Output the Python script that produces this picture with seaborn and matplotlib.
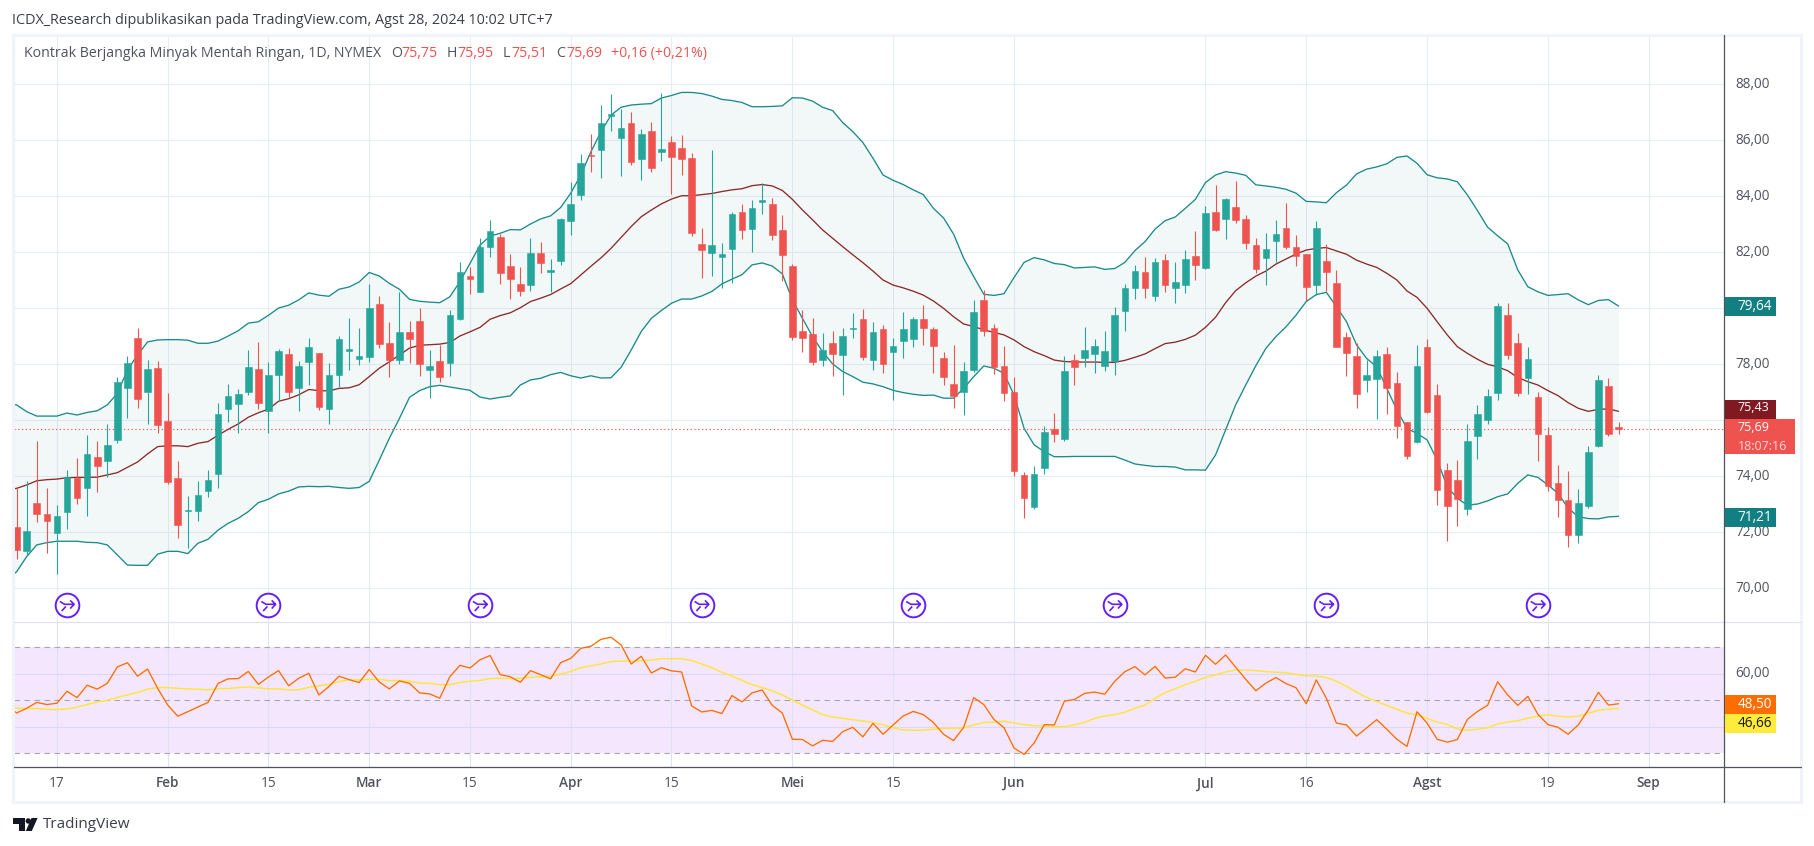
import numpy as np
import pandas as pd
import seaborn as sns
import matplotlib
matplotlib.use("Agg")
import matplotlib.pyplot as plt
from matplotlib.path import Path
from matplotlib.patches import Rectangle, Polygon, Circle
from matplotlib.lines import Line2D
from matplotlib.transforms import Affine2D, ScaledTranslation

open_ = [72.19,71.33,73.05,72.65,71.97,72.72,73.94,73.58,74.69,74.55,
75.30,77.15,78.94,77.01,77.87,75.97,73.94,72.77,72.76,73.47,
74.08,76.40,76.58,77.01,77.83,76.33,77.62,78.37,77.15,78.08,
78.40,76.40,77.62,78.47,78.19,78.26,80.15,78.76,78.15,79.15,
79.55,77.80,78.12,78.05,79.62,81.15,80.58,82.19,82.55,81.51,
80.87,80.83,81.97,81.31,81.69,83.12,84.05,85.48,85.65,86.87,
86.08,86.62,85.33,86.33,85.58,85.94,85.72,85.37,82.30,81.97,
81.83,82.12,83.44,82.83,83.80,83.73,82.80,81.51,79.19,79.08,
78.15,78.76,78.33,79.26,79.62,78.15,79.26,78.44,78.83,78.90,
79.62,79.26,78.23,77.30,77.01,77.80,80.30,79.30,77.94,77.01,
74.05,72.90,74.30,75.69,75.33,78.15,78.23,78.37,77.94,78.12,
79.90,80.73,81.30,80.44,81.73,80.73,80.83,81.87,81.44,83.44,
83.19,83.62,83.19,82.26,81.80,82.40,82.87,82.19,81.94,80.83,
81.69,80.90,78.97,78.30,77.44,77.47,78.37,77.33,75.94,75.21,
78.62,76.90,74.22,73.87,72.83,75.44,76.01,76.97,79.76,78.76,
77.51,76.83,75.47,73.76,73.15,71.90,72.94,75.08,77.22,75.75]
high = [73.57,73.82,75.26,73.58,72.97,74.22,74.65,75.47,75.26,75.87,
77.55,78.30,79.30,78.15,78.12,76.97,74.55,73.30,73.83,74.22,
76.62,77.30,77.12,78.51,78.80,78.08,78.55,78.58,78.12,78.94,
78.40,78.05,79.01,79.65,79.30,80.87,80.44,79.51,80.58,79.55,
80.01,78.51,78.69,79.94,81.64,81.46,82.51,83.15,82.65,81.94,
81.47,82.51,82.37,81.76,83.22,84.51,85.51,86.22,87.26,87.65,
87.12,87.01,86.40,86.66,87.69,86.15,86.19,85.55,82.87,85.65,
82.33,83.44,83.73,83.87,84.48,83.94,83.33,81.58,79.94,79.65,
79.12,79.19,79.30,79.83,79.98,79.51,79.40,78.94,79.87,79.69,
80.12,79.33,78.44,78.69,78.08,80.30,80.66,79.44,78.65,77.55,
74.15,74.37,75.80,76.26,78.30,78.37,79.33,78.90,79.19,80.05,
80.87,81.55,81.83,81.80,81.94,81.65,82.08,82.76,83.65,84.40,
83.94,84.55,83.33,82.51,82.69,83.15,83.76,82.62,81.94,83.12,
82.30,81.37,79.15,78.76,78.15,78.51,78.62,77.72,75.94,78.69,
78.90,77.30,74.47,74.58,75.87,76.55,77.12,80.19,80.19,79.12,
78.62,77.01,75.76,74.40,74.19,73.55,75.08,77.62,77.51,75.95]
low = [71.05,71.19,72.37,71.26,70.51,72.12,73.01,72.58,73.44,73.97,
75.19,76.08,76.44,75.87,75.55,73.72,71.80,71.44,72.40,73.26,
73.58,75.94,75.55,76.90,76.40,75.55,76.69,76.83,76.33,77.26,
76.37,75.87,77.19,77.80,77.97,78.08,78.58,77.55,78.01,78.05,
77.58,76.80,77.37,77.58,79.58,80.51,80.58,81.83,80.87,80.33,
80.44,80.62,81.26,80.58,81.55,82.62,83.87,84.87,84.65,86.33,
84.73,85.12,84.58,84.87,85.26,84.08,84.76,82.58,81.08,81.15,
80.73,80.90,82.48,82.01,83.37,82.44,80.98,78.87,78.44,77.97,
77.94,77.58,76.90,78.94,78.15,77.80,77.69,76.73,78.23,78.62,
78.69,77.69,77.26,76.44,76.19,77.73,79.01,77.65,76.69,74.01,
72.51,72.83,74.08,75.23,75.26,77.26,77.90,77.69,77.76,77.62,
79.19,80.33,80.37,80.26,80.58,80.19,80.55,81.01,81.40,82.76,
82.47,83.05,82.12,81.26,80.83,81.65,82.12,81.51,80.26,80.47,
80.62,78.62,77.58,76.44,77.01,76.05,76.22,75.37,74.62,75.19,
76.26,72.97,71.69,72.22,72.62,74.62,75.87,76.72,78.19,76.87,
76.94,74.55,73.47,72.55,71.47,71.62,72.87,75.05,75.44,75.51]
close = [71.38,72.05,72.65,72.40,72.58,73.97,73.22,74.80,74.37,75.12,
77.37,78.05,76.76,77.83,75.83,73.80,72.26,72.80,73.33,73.87,
76.22,76.87,76.94,77.90,76.62,77.62,78.47,77.01,77.94,78.62,
76.47,77.62,78.90,78.55,78.30,80.01,78.72,78.15,79.15,78.90,
78.01,77.94,77.55,79.76,81.30,81.06,82.19,82.76,81.26,81.05,
80.62,81.97,81.62,81.37,83.19,83.72,85.19,85.44,86.62,86.94,
86.44,85.23,86.23,85.01,85.69,85.40,85.33,82.69,82.08,82.26,
81.94,83.37,82.80,83.58,83.87,82.62,81.90,78.97,78.94,78.08,
78.51,78.37,79.01,79.30,78.26,79.15,78.01,78.65,79.26,79.62,
79.30,78.65,77.55,76.87,77.76,79.87,79.19,77.90,76.97,74.19,
73.23,74.08,75.58,75.51,77.76,77.90,78.51,78.65,78.48,79.76,
80.73,81.33,80.73,81.65,80.83,80.94,81.76,81.55,83.40,82.80,
83.90,83.15,82.33,81.40,82.12,82.65,82.19,81.87,80.76,82.87,
81.30,78.62,78.40,76.94,77.62,78.30,77.15,75.80,74.72,77.94,
76.30,73.51,72.94,73.19,75.26,76.22,76.87,80.08,78.33,76.97,
78.19,75.51,73.65,73.15,71.90,73.05,74.87,77.44,75.51,75.69]

bb_upper = [76.60,76.55,76.31,76.15,76.15,76.15,76.26,76.19,76.28,76.34,76.55,
76.96,77.80,78.33,78.80,78.87,78.88,78.88,78.86,78.75,78.75,
78.83,79.01,79.20,79.47,79.52,79.75,80.01,80.11,80.30,80.55,
80.47,80.43,80.68,80.76,80.94,81.28,81.15,80.89,80.68,80.32,
80.25,80.22,80.20,80.41,80.95,81.60,82.26,82.58,82.68,82.81,
82.80,83.01,83.19,83.30,83.60,84.11,84.76,85.59,86.30,86.90,
87.18,87.26,87.29,87.31,87.51,87.60,87.71,87.71,87.67,87.58,
87.46,87.42,87.35,87.20,87.20,87.21,87.23,87.52,87.51,87.40,
87.18,87.06,86.63,86.31,85.92,85.36,84.76,84.57,84.42,84.23,
84.06,83.57,83.23,82.65,81.79,81.13,80.50,80.46,80.52,81.10,
81.64,81.81,81.73,81.60,81.56,81.44,81.46,81.48,81.39,81.42,
81.64,82.06,82.38,82.83,83.13,83.26,83.57,83.89,84.49,84.76,
84.88,84.83,84.75,84.41,84.37,84.32,84.25,84.11,83.82,83.80,
83.77,84.13,84.40,84.80,84.97,85.05,85.16,85.39,85.44,85.18,
84.77,84.66,84.62,84.52,84.05,83.49,82.90,82.59,82.30,81.37,
80.77,80.59,80.46,80.49,80.52,80.30,80.13,80.28,80.31,80.08]
bb_basis = [73.51,73.57,73.69,73.84,73.88,73.90,73.95,73.96,73.96,73.97,74.05,
74.13,74.32,74.51,74.80,75.06,75.09,75.09,75.06,75.18,75.24,
75.47,75.68,75.87,76.11,76.27,76.40,76.68,76.77,76.91,77.10,
77.06,77.05,77.14,77.16,77.27,77.56,77.86,78.09,78.33,78.58,
78.68,78.70,78.72,78.78,79.01,79.16,79.32,79.61,79.74,79.84,
80.02,80.24,80.36,80.49,80.69,80.88,81.19,81.50,81.80,82.14,
82.53,82.92,83.27,83.51,83.73,83.90,84.02,84.02,84.06,84.10,
84.17,84.23,84.27,84.38,84.42,84.37,84.21,83.89,83.51,83.16,
82.80,82.50,82.20,81.91,81.63,81.33,81.01,80.83,80.73,80.61,
80.47,80.26,80.00,79.70,79.44,79.35,79.23,79.14,79.05,78.87,
78.63,78.45,78.31,78.15,78.10,78.08,78.08,78.08,78.07,78.07,
78.14,78.25,78.37,78.56,78.74,78.79,78.89,79.04,79.32,79.68,
80.20,80.63,80.91,81.15,81.33,81.58,81.76,81.94,82.08,82.14,
82.17,82.05,81.93,81.72,81.58,81.46,81.25,81.01,80.62,80.39,
80.00,79.52,79.05,78.63,78.39,78.18,78.00,77.91,77.77,77.53,
77.38,77.26,77.06,76.88,76.63,76.43,76.32,76.39,76.41,76.32]
bb_lower = [70.30,70.59,71.13,71.55,71.63,71.68,71.68,71.68,71.64,71.63,71.55,
71.19,70.83,70.82,70.82,71.22,71.32,71.32,71.24,71.61,71.75,
72.08,72.32,72.50,72.74,73.06,73.18,73.37,73.47,73.62,73.64,
73.63,73.64,73.60,73.57,73.60,73.82,74.58,75.36,76.07,76.82,
77.06,77.20,77.25,77.19,77.13,77.07,76.83,76.76,76.82,76.87,
77.26,77.44,77.50,77.63,77.71,77.59,77.51,77.59,77.51,77.52,
77.89,78.51,79.17,79.64,79.92,80.18,80.33,80.33,80.44,80.60,
80.87,81.04,81.20,81.55,81.62,81.51,81.23,80.30,79.64,78.99,
78.45,78.01,77.74,77.56,77.36,77.30,77.20,77.07,76.99,76.93,
76.89,76.90,76.79,76.79,77.14,77.56,77.94,77.86,77.68,76.90,
75.71,75.12,74.88,74.70,74.70,74.71,74.71,74.71,74.71,74.71,
74.58,74.44,74.39,74.35,74.35,74.33,74.23,74.23,74.22,74.76,
75.65,76.55,77.26,77.95,78.57,78.99,79.34,79.76,80.24,80.49,
80.57,80.06,79.52,78.69,78.21,77.91,77.14,76.37,75.71,75.53,
75.30,74.58,73.63,73.21,72.97,73.01,73.12,73.27,73.37,73.75,
74.05,73.96,73.69,73.39,72.86,72.56,72.49,72.48,72.55,72.57]

rsi = [48.2,45.2,47.0,49.2,48.4,48.9,53.4,51.0,55.7,54.2,56.4,
62.6,64.2,59.1,61.8,54.5,48.2,44.0,45.7,47.5,49.2,
56.4,58.1,58.2,60.9,56.0,58.8,61.2,55.5,58.3,60.2,
52.0,55.2,59.1,57.8,56.7,61.6,56.9,54.3,57.3,56.4,
52.8,52.4,50.8,58.9,63.2,62.2,65.3,66.9,59.7,58.9,
56.8,61.2,59.7,58.1,64.2,65.8,69.6,70.4,73.0,73.8,
70.9,63.7,66.6,60.3,62.3,61.1,60.7,47.9,45.6,46.2,
45.0,51.8,49.4,52.8,53.9,48.1,45.2,35.3,35.2,32.8,
34.9,34.5,38.2,39.8,36.2,41.3,37.2,40.7,44.1,45.8,
44.6,41.6,37.2,34.8,39.8,51.0,48.4,42.8,39.7,32.0,
29.6,33.9,40.8,40.7,49.7,50.3,52.6,53.1,52.3,57.2,
60.8,62.7,59.6,62.8,58.4,58.7,61.9,60.7,67.0,63.6,
67.1,62.5,57.9,53.6,56.5,58.6,56.3,54.7,48.7,57.7,
50.8,41.4,40.7,36.5,39.6,42.7,39.1,35.3,32.6,45.7,
41.4,35.3,34.2,35.2,42.8,45.8,48.1,57.0,52.0,48.1,
51.5,44.7,40.8,39.8,37.2,40.7,46.4,53.0,48.2,48.7]
rsi_ma = [47.0,47.0,46.9,46.9,46.6,46.5,46.7,47.4,48.4,49.4,50.0,
51.1,52.0,53.0,54.2,54.8,54.8,54.5,54.3,54.2,53.9,
54.4,54.4,54.8,55.0,54.7,54.3,54.3,53.9,54.0,54.9,
55.5,56.0,57.0,57.7,57.7,57.9,57.9,57.4,57.5,57.2,
56.5,56.4,55.9,55.9,56.7,57.2,57.5,58.2,58.3,58.2,
58.3,58.7,58.8,59.1,59.9,60.9,62.3,63.0,63.7,64.6,
64.8,64.8,65.0,65.2,65.7,65.7,65.7,65.0,63.7,62.3,
60.6,59.2,57.5,55.9,54.8,53.6,52.0,50.1,48.2,46.4,
44.6,43.7,43.2,42.7,42.2,41.6,40.8,39.6,38.8,38.7,
38.7,39.1,39.4,39.4,39.6,40.7,41.6,41.7,42.1,41.4,
40.9,40.4,40.3,40.1,40.1,40.7,41.7,43.2,44.1,44.6,
45.5,47.0,48.2,50.8,52.9,54.4,55.9,57.2,58.6,59.6,
60.7,61.4,61.4,61.2,60.8,60.6,60.4,59.8,59.2,59.2,
58.6,57.2,55.2,53.1,51.1,49.5,48.1,46.6,45.2,44.5,
43.2,41.8,40.9,39.2,38.7,39.1,39.6,41.1,41.8,42.3,
43.3,44.0,44.5,44.0,43.7,44.0,45.1,46.2,46.7,46.9]

time_ticks = [4,15,25,35,45,55,65,77,87,99,118,128,140,152,162]
time_labels = ["17","Feb","15","Mar","15","Apr","15","Mei","15","Jun","Jul","16","Agst","19","Sep"]
month_labels = {"Feb","Mar","Apr","Mei","Jun","Jul","Agst","Sep"}
price_ticks = [70,72,74,76,78,80,82,84,86,88]
event_days = [5,25,46,68,89,109,130,151]
last_price = 75.69

W, H = 1814, 846
BG_BORDER = "#f0f3fa"
TEAL, RED = "#26a69a", "#ef5350"
BAND = "#1b8a8a"
BASIS = "#8a2a2a"
GRID = "#e6edf2"
TXT = "#50535e"
FONT = "Open Sans"

sns.set_theme(style="white")
plt.rcParams["font.family"] = [FONT, "DejaVu Sans"]
fig = plt.figure(figsize=(W/100, H/100), dpi=100, facecolor="white")
px = Affine2D().scale(1, -1).translate(0, H)

def axes_px(x0, y0, x1, y1):
    return fig.add_axes([x0/W, 1-y1/H, (x1-x0)/W, (y1-y0)/H])

X0, X1 = 13.5, 1724
ax = axes_px(X0, 35, X1, 622)
ax2 = axes_px(X0, 622, X1, 767.3)
xlim = ((X0-16.6)/10.075, (X1-16.6)/10.075)

candles = pd.DataFrame({"i": np.arange(len(close)), "o": open_, "h": high, "l": low, "c": close})
candles["color"] = np.where(candles.c >= candles.o, TEAL, RED)
lines = pd.DataFrame({"i": np.arange(-1, len(close)), "up": bb_upper, "mid": bb_basis, "lo": bb_lower,
                      "rsi": rsi, "ma": rsi_ma})

# --- main pane
ax.set_xlim(*xlim)
ax.set_ylim(88-(622-84.3)/28, 88+(84.3-35)/28)
ax.set_xticks(time_ticks)
ax.set_yticks(price_ticks)
ax.set_yticklabels([f"{p},00" for p in price_ticks])
ax.grid(True, color=GRID, lw=0.8, zorder=0)
ax.set_axisbelow(True)
ax.tick_params(axis="x", length=0, labelbottom=False)
ax.yaxis.tick_right()
ax.tick_params(axis="y", length=0, pad=8, labelsize=9.8, labelcolor=TXT)
off = ScaledTranslation(0, 2/72*0.72, fig.dpi_scale_trans)
for lab in ax.get_yticklabels():
    lab.set_transform(lab.get_transform()+off)

ax.fill_between(lines.i, lines.lo, lines.up, color="#138484", alpha=0.05, lw=0, zorder=1)
for col, colr in (("up", BAND), ("lo", BAND), ("mid", BASIS)):
    sns.lineplot(data=lines, x="i", y=col, ax=ax, color=colr, lw=0.95, estimator=None, sort=False, zorder=2, legend=False)
ax.axhline(last_price, color=RED, lw=0.85, ls=(0, (1, 2.2)), zorder=2)
ax.vlines(candles.i, candles.l, candles.h, colors=candles.color, lw=0.8, zorder=3)
ax.bar(candles.i, (candles.c-candles.o).abs(), bottom=candles[["o", "c"]].min(axis=1), width=0.66,
       color=candles.color, edgecolor=candles.color, lw=0.4, zorder=4)
ax.set_xlabel(""); ax.set_ylabel("")

# event markers
event_y = [88-(605-84.3)/28]*len(event_days)
ax.scatter(event_days, event_y, s=290, facecolor="white", edgecolor="#651fff", lw=1.4, zorder=5)
glyph = Path([(-1,.5),(-.35,.1),(1,.1),(.45,.65),(1,.1),(.45,-.5),(-.75,-.85),(-.15,-.2)],
             [Path.MOVETO,Path.LINETO,Path.LINETO,Path.MOVETO,Path.LINETO,Path.LINETO,Path.MOVETO,Path.LINETO])
ax.scatter(event_days, event_y, s=105, marker=glyph, facecolor="none", edgecolor="#651fff", lw=1.2, zorder=6)

# --- RSI pane
ax2.set_xlim(*xlim)
ax2.set_ylim(50-(767.3-700.3)/2.65, 50+(700.3-622)/2.65)
ax2.axhspan(30, 70, color="#f4e7fd", lw=0, zorder=0)
ax2.set_xticks(time_ticks)
ax2.set_xticklabels(time_labels)
ax2.set_yticks([60])
ax2.set_yticklabels(["60,00"])
ax2.yaxis.tick_right()
ax2.tick_params(axis="y", length=0, pad=8, labelsize=9.8, labelcolor=TXT)
ax2.tick_params(axis="x", length=0, pad=6.5, labelsize=9.8, labelcolor=TXT)
for lab in ax2.get_yticklabels():
    lab.set_transform(lab.get_transform()+off)
for lab in ax2.get_xticklabels():
    if lab.get_text() in month_labels:
        lab.set_fontweight("semibold")
for t in time_ticks:
    ax2.axvline(t, color="#dfe3ee", lw=0.8, zorder=1)
for v in (60, 40):
    ax2.axhline(v, color="#dcd7f2", lw=0.8, zorder=1)
for v in (70, 50, 30):
    ax2.axhline(v, color="#a8a6b0", lw=0.8, ls=(0, (5, 4)), zorder=1)
sns.lineplot(data=lines, x="i", y="ma", ax=ax2, color="#ffe53b", lw=1.05, estimator=None, sort=False, zorder=3, legend=False)
sns.lineplot(data=lines, x="i", y="rsi", ax=ax2, color="#ff6d00", lw=0.95, estimator=None, sort=False, zorder=4, legend=False)
ax2.set_xlabel(""); ax2.set_ylabel("")

for a in (ax, ax2):
    for s in a.spines.values():
        s.set_visible(False)

# --- frame
def add_rect(x0, y0, x1, y1, fc, ec="none", lw=0, z=5):
    fig.add_artist(Rectangle((x0, y0), x1-x0, y1-y0, transform=px, facecolor=fc, edgecolor=ec, lw=lw, zorder=z))

def add_line(x0, y0, x1, y1, color, lw=1.0, z=4):
    fig.add_artist(Line2D([x0, x1], [y0, y1], transform=px, color=color, lw=lw, zorder=z))

add_rect(13, 34.5, 1801, 802, "none", BG_BORDER, 2.2, z=3)
add_line(X0, 622, 1801, 622, "#e0e3eb", 0.9)
add_line(X0, 767.3, 1801, 767.3, "#50535e", 0.9)
add_line(1724, 35, 1724, 802, "#50535e", 0.9)

def label(x0, x1, y0, y1, text_y, bg, s, fg, size=9.8, sub=None):
    add_rect(x0, y0, x1, y1, bg)
    fig.text(x0+13, text_y, s, transform=px, color=fg, fontsize=size, va="center", zorder=7)
    if sub:
        fig.text(x0+13, sub[0], sub[1], transform=px, color="#ffd6d4", fontsize=size, va="center", zorder=7)

label(1724.5, 1775.5, 297, 316, 306, "#128082", "79,64", "white")
label(1724.5, 1775.5, 400, 419, 407.5, "#801922", "75,43", "white", size=9.0)
label(1724.5, 1795, 419, 454, 427, RED, "75,69", "white", size=9.0, sub=(446.5, "18:07:16"))
label(1724.5, 1775.5, 508, 527, 517, "#128082", "71,21", "white")
label(1724.5, 1775.5, 695, 714, 704, "#ff6d00", "48,50", "white")
label(1724.5, 1775.5, 714, 733, 723, "#ffeb3b", "46,66", "#131722")

# --- header / legend text
fig.text(12, 20, "ICDX_Research dipublikasikan pada TradingView.com, Agst 28, 2024 10:02 UTC+7",
         transform=px, color="#3c3f48", fontsize=10.4, va="center")
fig.text(23.5, 53, "Kontrak Berjangka Minyak Mentah Ringan, 1D, NYMEX", transform=px, color=TXT, fontsize=10.2, va="center", zorder=7)
for x, s, c in [(391, "O", TXT), (401.5, "75,75", RED), (447, "H", TXT), (457.5, "75,95", RED),
                (503, "L", TXT), (511, "75,51", RED), (556, "C", TXT), (566, "75,69", RED),
                (611, "+0,16 (+0,21%)", RED)]:
    fig.text(x, 53, s, transform=px, color=c, fontsize=10.2, va="center", zorder=7)

# --- footer logo
LOGO = "#131722"
fig.add_artist(Polygon([(13,818),(25,818),(25,831),(19,831),(19,823.5),(13,823.5)], transform=px, fc=LOGO, ec="none"))
fig.add_artist(Circle((28.3,821), 2.7, transform=px, fc=LOGO, ec="none"))
fig.add_artist(Polygon([(31.5,818),(37.6,818),(31.8,831),(25.8,831)], transform=px, fc=LOGO, ec="none"))
fig.text(42.5, 824.5, "TradingView", transform=px, color="#3c3f48", fontsize=11.0, va="center")

fig.savefig("out.png", dpi=100, facecolor="white")
